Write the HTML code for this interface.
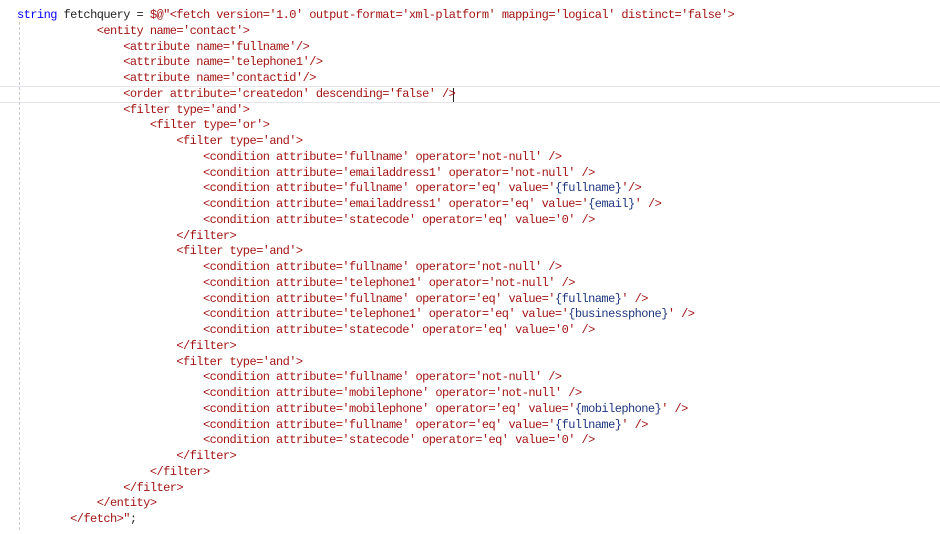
<!DOCTYPE html>
<html><head><meta charset="utf-8"><style>
html,body{margin:0;padding:0;background:#fff;width:940px;height:534px;overflow:hidden;position:relative}
pre{position:absolute;left:17px;top:8px;margin:0;font-family:"Liberation Mono",monospace;font-size:12px;letter-spacing:-0.56px;line-height:15.75px;color:#a31515;white-space:pre}
.k{color:#0000ff}.p{color:#222}.i{color:#1f377f}
.hl{position:absolute;left:0;width:940px;top:86px;height:15px;border-top:1px solid #e4e4ea;border-bottom:1px solid #e4e4ea}
.g{position:absolute;left:19px;top:22px;height:508px;border-left:1px dashed #c8c8c8}
.c{position:absolute;left:453px;top:88px;width:1px;height:14px;background:#222}
</style></head><body>
<div class="hl"></div><div class="g"></div><div class="c"></div>
<pre><span class="k">string</span><span class="p"> fetchquery = </span>$@"&lt;fetch version='1.0' output-format='xml-platform' mapping='logical' distinct='false'&gt;
            &lt;entity name='contact'&gt;
                &lt;attribute name='fullname'/&gt;
                &lt;attribute name='telephone1'/&gt;
                &lt;attribute name='contactid'/&gt;
                &lt;order attribute='createdon' descending='false' /&gt;
                &lt;filter type='and'&gt;
                    &lt;filter type='or'&gt;
                        &lt;filter type='and'&gt;
                            &lt;condition attribute='fullname' operator='not-null' /&gt;
                            &lt;condition attribute='emailaddress1' operator='not-null' /&gt;
                            &lt;condition attribute='fullname' operator='eq' value='<span class="i">{fullname}</span>'/&gt;
                            &lt;condition attribute='emailaddress1' operator='eq' value='<span class="i">{email}</span>' /&gt;
                            &lt;condition attribute='statecode' operator='eq' value='0' /&gt;
                        &lt;/filter&gt;
                        &lt;filter type='and'&gt;
                            &lt;condition attribute='fullname' operator='not-null' /&gt;
                            &lt;condition attribute='telephone1' operator='not-null' /&gt;
                            &lt;condition attribute='fullname' operator='eq' value='<span class="i">{fullname}</span>' /&gt;
                            &lt;condition attribute='telephone1' operator='eq' value='<span class="i">{businessphone}</span>' /&gt;
                            &lt;condition attribute='statecode' operator='eq' value='0' /&gt;
                        &lt;/filter&gt;
                        &lt;filter type='and'&gt;
                            &lt;condition attribute='fullname' operator='not-null' /&gt;
                            &lt;condition attribute='mobilephone' operator='not-null' /&gt;
                            &lt;condition attribute='mobilephone' operator='eq' value='<span class="i">{mobilephone}</span>' /&gt;
                            &lt;condition attribute='fullname' operator='eq' value='<span class="i">{fullname}</span>' /&gt;
                            &lt;condition attribute='statecode' operator='eq' value='0' /&gt;
                        &lt;/filter&gt;
                    &lt;/filter&gt;
                &lt;/filter&gt;
            &lt;/entity&gt;
        &lt;/fetch&gt;"<span class="p">;</span></pre>
</body></html>
